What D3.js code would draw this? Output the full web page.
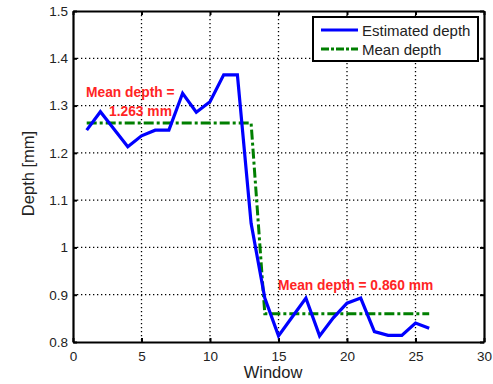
<!DOCTYPE html>
<html>
<head>
<meta charset="utf-8">
<script src="https://cdn.jsdelivr.net/npm/d3@7"></script>
<style>
  body { margin: 0; background: #fff; }
  text { font-family: "Liberation Sans", Arial, sans-serif; }
</style>
</head>
<body>
<div id="chart"></div>
<script>
// data
var windows = d3.range(1, 27);
var estimatedDepth = [1.248, 1.287, 1.25, 1.213, 1.236, 1.248, 1.248, 1.326, 1.286, 1.308,
  1.365, 1.365, 1.051, 0.893, 0.813, 0.853, 0.893, 0.813, 0.851, 0.882,
  0.893, 0.822, 0.814, 0.814, 0.840, 0.829];
var meanDepth = [1.263, 1.263, 1.263, 1.263, 1.263, 1.263, 1.263, 1.263, 1.263, 1.263,
  1.263, 1.263, 1.263, 0.860, 0.860, 0.860, 0.860, 0.860, 0.860, 0.860,
  0.860, 0.860, 0.860, 0.860, 0.860, 0.860];
var xTicks = [0, 5, 10, 15, 20, 25, 30];
var yTicks = [0.8, 0.9, 1, 1.1, 1.2, 1.3, 1.4, 1.5];
var seriesNames = ["Estimated depth", "Mean depth"];

// set the dimensions and margins of the graph
var margin = { top: 11, right: 10, bottom: 42, left: 73 },
    width = 484 - margin.left,
    height = 342 - margin.top;

var svg = d3.select("#chart")
  .append("svg")
  .attr("width", 493)
  .attr("height", 384)
  .append("g")
  .attr("transform", "translate(" + margin.left + "," + margin.top + ")");

var x = d3.scaleLinear().domain([0, 30]).range([0, width]);
var y = d3.scaleLinear().domain([0.8, 1.5]).range([height, 0]);

// dotted grid
svg.append("g").selectAll("line.gx")
  .data(xTicks.slice(1, -1))
  .enter().append("line")
  .attr("x1", function (d) { return x(d); })
  .attr("x2", function (d) { return x(d); })
  .attr("y1", 0).attr("y2", height)
  .attr("stroke", "#000").attr("stroke-width", 1.3)
  .attr("stroke-dasharray", "1.3,2.7");
svg.append("g").selectAll("line.gy")
  .data(yTicks.slice(1, -1))
  .enter().append("line")
  .attr("y1", function (d) { return y(d); })
  .attr("y2", function (d) { return y(d); })
  .attr("x1", 0).attr("x2", width)
  .attr("stroke", "#000").attr("stroke-width", 1.3)
  .attr("stroke-dasharray", "1.3,2.7");

// axes
var xAxis = svg.append("g")
  .attr("transform", "translate(0," + height + ")")
  .call(d3.axisBottom(x).tickValues(xTicks).tickSizeInner(-4).tickSizeOuter(0).tickPadding(9));
var xTop = svg.append("g")
  .call(d3.axisTop(x).tickValues(xTicks).tickSizeInner(-4).tickSizeOuter(0).tickFormat(""));
var yAxis = svg.append("g")
  .call(d3.axisLeft(y).tickValues(yTicks).tickSizeInner(-4).tickSizeOuter(0).tickPadding(5)
    .tickFormat(function (d) { return d === 1 ? "1" : d3.format(".1f")(d); }));
var yRight = svg.append("g")
  .attr("transform", "translate(" + width + ",0)")
  .call(d3.axisRight(y).tickValues(yTicks).tickSizeInner(-4).tickSizeOuter(0).tickFormat(""));

[xAxis, xTop, yAxis, yRight].forEach(function (a) {
  a.select(".domain").attr("stroke", "#000").attr("stroke-width", 2.2);
  a.selectAll(".tick line").attr("stroke", "#000").attr("stroke-width", 2);
  a.selectAll(".tick text").attr("font-size", 13.5).attr("fill", "#222")
    .style("font-family", "'Liberation Sans', Arial, sans-serif");
});

// axis titles
svg.append("text")
  .attr("x", x(14.6)).attr("y", height + 36)
  .attr("text-anchor", "middle").attr("font-size", 16.5).attr("fill", "#222")
  .text("Window");
svg.append("text")
  .attr("transform", "translate(" + (-39) + "," + (height / 2 - 3) + ") rotate(-90)")
  .attr("text-anchor", "middle").attr("font-size", 16.5).attr("fill", "#222")
  .text("Depth [mm]");

// lines
var line = d3.line()
  .x(function (d, i) { return x(windows[i]); })
  .y(function (d) { return y(d); });

svg.append("path")
  .datum(meanDepth)
  .attr("fill", "none")
  .attr("stroke", "#007f00")
  .attr("stroke-width", 3)
  .attr("stroke-dasharray", "10,3,3,3")
  .attr("d", line);

svg.append("path")
  .datum(estimatedDepth)
  .attr("fill", "none")
  .attr("stroke", "#0000ff")
  .attr("stroke-width", 3.2)
  .attr("stroke-linejoin", "miter")
  .attr("d", line);

// annotations
var red = "#ff2424";
svg.append("text")
  .attr("x", 86 - margin.left).attr("y", 97 - margin.top)
  .attr("fill", red).attr("font-weight", "bold").attr("font-size", 13.8)
  .text("Mean depth =");
svg.append("text")
  .attr("x", 109 - margin.left).attr("y", 116 - margin.top)
  .attr("fill", red).attr("font-weight", "bold").attr("font-size", 13.8)
  .text("1.263 mm");
svg.append("text")
  .attr("x", 278 - margin.left).attr("y", 290 - margin.top)
  .attr("fill", red).attr("font-weight", "bold").attr("font-size", 13.8)
  .text("Mean depth = 0.860 mm");

// legend
var legend = svg.append("g")
  .attr("transform", "translate(" + (313 - margin.left) + "," + (17 - margin.top) + ")");
legend.append("rect")
  .attr("width", 165).attr("height", 44)
  .attr("fill", "#fff").attr("stroke", "#000").attr("stroke-width", 2);
var legendStyles = [
  { color: "#0000ff", dash: null },
  { color: "#007f00", dash: "8,2,3,2" }
];
seriesNames.forEach(function (name, i) {
  var ly = 13 + i * 19;
  legend.append("line")
    .attr("x1", 8).attr("x2", 45).attr("y1", ly).attr("y2", ly)
    .attr("stroke", legendStyles[i].color).attr("stroke-width", 3)
    .attr("stroke-dasharray", legendStyles[i].dash);
  legend.append("text")
    .attr("x", 49).attr("y", ly + 5.5)
    .attr("font-size", 15).attr("fill", "#222")
    .text(name);
});
</script>
</body>
</html>
